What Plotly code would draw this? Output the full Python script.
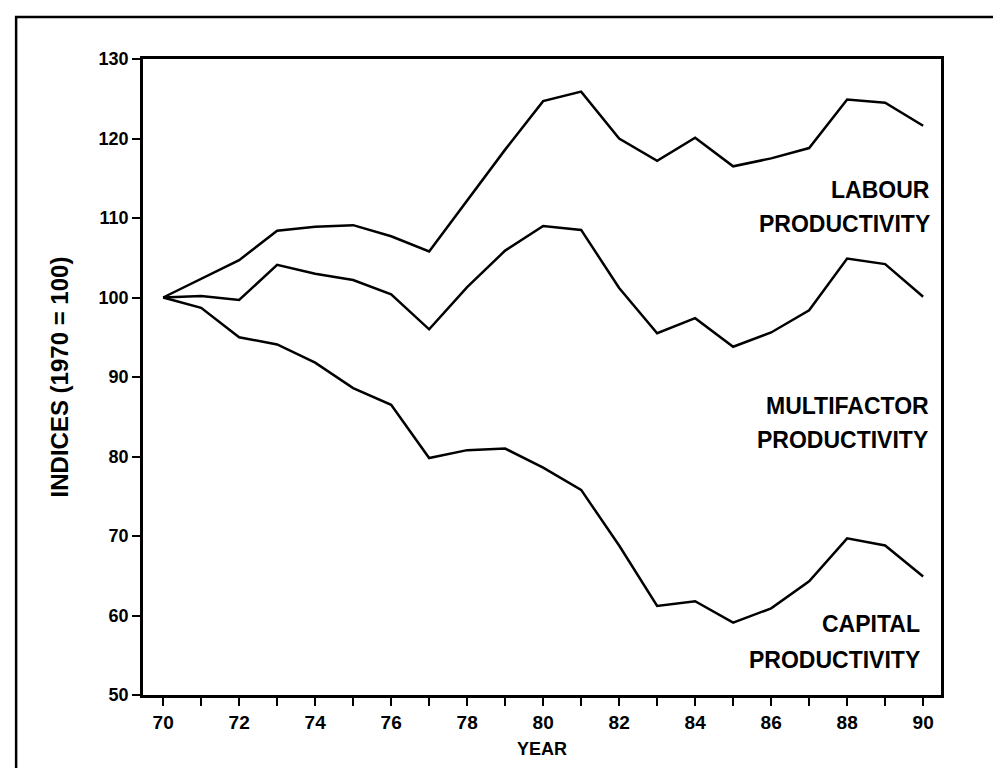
import plotly.graph_objects as go

years = list(range(70, 91))
labour = [100, 102.4, 104.7, 108.4, 108.9, 109.1, 107.7, 105.8, 112.2, 118.6, 124.7,
          125.9, 120.0, 117.2, 120.1, 116.5, 117.5, 118.8, 124.9, 124.5, 121.6]
multifactor = [100, 100.2, 99.7, 104.1, 103.0, 102.2, 100.4, 96.0, 101.3, 105.9, 109.0,
               108.5, 101.2, 95.5, 97.4, 93.8, 95.6, 98.4, 104.9, 104.2, 100.1]
capital = [100, 98.7, 95.0, 94.1, 91.8, 88.6, 86.5, 79.8, 80.8, 81.0, 78.6,
           75.8, 68.8, 61.2, 61.8, 59.1, 60.9, 64.3, 69.7, 68.8, 64.9]

y_ticks = [50, 60, 70, 80, 90, 100, 110, 120, 130]
x_ticks = [70, 72, 74, 76, 78, 80, 82, 84, 86, 88, 90]

labels = [
    ("LABOUR", 90.24, 113.5),
    ("PRODUCTIVITY", 90.24, 109.3),
    ("MULTIFACTOR", 90.21, 86.3),
    ("PRODUCTIVITY", 90.18, 82.1),
    ("CAPITAL", 89.96, 58.9),
    ("PRODUCTIVITY", 89.96, 54.4),
]

FONT = "Liberation Sans"

fig = go.Figure()
for name, vals in [("Labour", labour), ("Multifactor", multifactor), ("Capital", capital)]:
    fig.add_trace(go.Scatter(x=years, y=vals, mode="lines", name=name,
                             line=dict(color="black", width=2.5), showlegend=False))

for txt, x, y in labels:
    fig.add_annotation(x=x, y=y, text=txt, showarrow=False, xanchor="right", yanchor="middle",
                       font=dict(family=FONT, size=23, color="black", weight="bold"))

# outer frame
fig.add_shape(type="rect", xref="paper", yref="paper", x0=-0.159, x1=1.3, y0=-0.4, y1=1.066,
              line=dict(color="black", width=2.5), fillcolor="rgba(0,0,0,0)", layer="below")

fig.update_layout(
    width=1001, height=768,
    margin=dict(l=135, r=68, t=51, b=81),
    paper_bgcolor="white", plot_bgcolor="white",
    font=dict(family=FONT, color="black"),
)
fig.update_xaxes(
    range=[69.47, 90.47], tickvals=x_ticks, ticks="outside", ticklen=8, tickwidth=2,
    tickcolor="black", showline=True, linecolor="black", linewidth=2.5, mirror=True,
    showgrid=False, zeroline=False,
    minor=dict(dtick=1, tick0=70, ticks="outside", ticklen=8, tickwidth=2, tickcolor="black"),
    tickfont=dict(family=FONT, size=19, color="black", weight="bold"),
    title=dict(text="YEAR", font=dict(family=FONT, size=18, color="black", weight="bold"), standoff=11),
)
fig.update_yaxes(
    range=[50, 130], tickvals=y_ticks, ticks="outside", ticklen=8, tickwidth=2,
    tickcolor="black", showline=True, linecolor="black", linewidth=2.5, mirror=True,
    showgrid=False, zeroline=False,
    tickfont=dict(family=FONT, size=18, color="black", weight="bold"),
    title=dict(text="INDICES (1970 = 100)", font=dict(family=FONT, size=24, color="black", weight="bold"), standoff=24),
)

fig.write_html("out.html")
